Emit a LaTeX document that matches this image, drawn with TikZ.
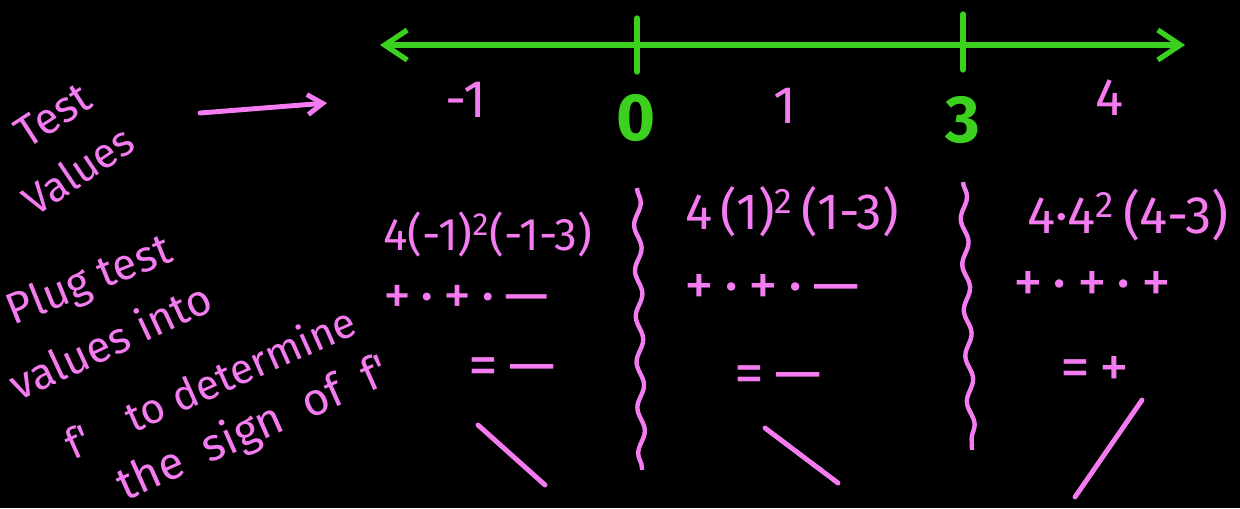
\documentclass[tikz,border=0pt]{standalone}
\usepackage{fontspec}
\setmainfont{Fira Sans}
\usepackage{xcolor}
\usetikzlibrary{arrows.meta, decorations.pathmorphing}
\definecolor{chalkpink}{HTML}{F47CF0}
\definecolor{chalkgreen}{HTML}{3CD11E}

\begin{document}
\begin{tikzpicture}[
        x=0.02cm, y=-0.02cm,
        ink/.style={text=chalkpink, font=\fontsize{26}{30}\selectfont, inner sep=0pt},
        signs/.style={ink, font=\fontsize{34}{38}\selectfont},
        note/.style={ink, font=\fontsize{25}{29}\selectfont},
        bigzero/.style={text=chalkgreen, font=\fontsize{38}{42}\selectfont\bfseries, inner sep=0pt},
        numline/.style={chalkgreen, line width=3pt, {Straight Barb[length=4.5mm, width=6mm]}-{Straight Barb[length=4.5mm, width=6mm]}},
        tickmark/.style={chalkgreen, line width=3pt, line cap=round},
        wavy/.style={chalkpink, line width=2.5pt, decorate, decoration={snake, amplitude=2pt, segment length=26pt}},
        slope/.style={chalkpink, line width=2.8pt, line cap=round},
        pointer/.style={chalkpink, line width=2.8pt, line cap=round, -{Straight Barb[length=3mm, width=4mm]}},
    ]
        % board
        \useasboundingbox (0,0) rectangle (1240,508);
        \fill[black] (0,0) rectangle (1240,508);

        % number line
        \coordinate (lineL) at (380,45);
        \coordinate (lineR) at (1185,45);
        \draw[numline] (lineL) -- (lineR);
        \coordinate (zeroTop) at (637,18);
        \coordinate (zeroBot) at (637,72);
        \coordinate (threeTop) at (963,14);
        \coordinate (threeBot) at (963,70);
        \draw[tickmark] (zeroTop) -- (zeroBot);
        \draw[tickmark] (threeTop) -- (threeBot);

        % test values on the line
        \node[ink, font=\fontsize{30}{34}\selectfont] (tvA) at (466,100) {-1};
        \node[bigzero] (crit0) at (636,118) {0};
        \node[ink, font=\fontsize{30}{34}\selectfont] (tvB) at (785,106) {1};
        \node[bigzero] (crit3) at (963,120) {3};
        \node[ink, font=\fontsize{30}{34}\selectfont] (tvC) at (1110,98) {4};

        % left notes
        \node[note, rotate=33] (lblTest) at (53,115) {Test};
        \node[note, rotate=34, font=\fontsize{24}{28}\selectfont] (lblValues) at (78,170) {Values};
        \coordinate (ptrS) at (200,113);
        \coordinate (ptrE) at (327,103);
        \draw[pointer] (ptrS) -- (ptrE);

        \node[note, rotate=22] (plugA) at (90,282) {Plug test};
        \node[note, rotate=25] (plugB) at (110,340) {values into};
        \node[note, rotate=24, font=\fontsize{24}{28}\selectfont] (plugC) at (210,382) {f\textquotesingle\quad to determine};
        \node[note, rotate=24, font=\fontsize{26}{30}\selectfont] (plugD) at (254,430) {the\ \ sign\ \ of\ \ f\textquotesingle};

        % separators at the critical numbers
        \coordinate (sepAtop) at (637,188);
        \coordinate (sepAbot) at (642,470);
        \coordinate (sepBtop) at (963,182);
        \coordinate (sepBbot) at (972,450);
        \draw[wavy] (sepAtop) -- (sepAbot);
        \draw[wavy] (sepBtop) -- (sepBbot);

        % interval left of 0
        \node[ink] (evalA) at (488,235) {4(-1)\textsuperscript{2}(-1-3)};
        \node[signs, font=\fontsize{32}{36}\selectfont] (signA) at (466,300) {+\,·\,+\,·\,—};
        \node[signs] (resA) at (512,372) {=\,—};
        \coordinate (downAs) at (478,425);
        \coordinate (downAe) at (545,485);
        \draw[slope] (downAs) -- (downAe);

        % interval between 0 and 3
        \node[ink, font=\fontsize{29}{33}\selectfont] (evalB) at (792,212) {4\,(1)\textsuperscript{2}\,(1-3)};
        \node[signs] (signB) at (772,290) {+\,·\,+\,·\,—};
        \node[signs] (resB) at (778,380) {=\,—};
        \coordinate (downBs) at (765,428);
        \coordinate (downBe) at (838,483);
        \draw[slope] (downBs) -- (downBe);

        % interval right of 3
        \node[ink, font=\fontsize{30}{34}\selectfont] (evalC) at (1128,215) {4·4\textsuperscript{2}\,(4-3)};
        \node[signs] (signC) at (1092,287) {+\,·\,+\,·\,+};
        \node[signs] (resC) at (1095,372) {=\,+};
        \coordinate (upCs) at (1075,497);
        \coordinate (upCe) at (1142,400);
        \draw[slope] (upCs) -- (upCe);
    \end{tikzpicture}
\end{document}
